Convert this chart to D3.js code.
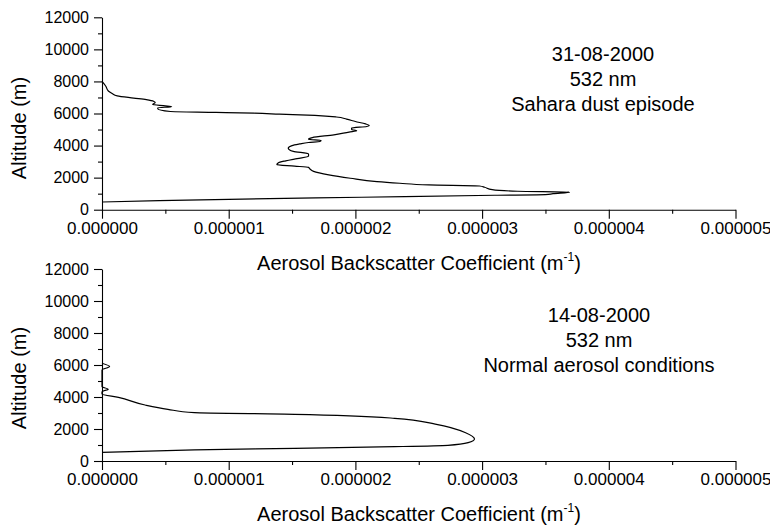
<!DOCTYPE html>
<html>
<head>
<meta charset="utf-8">
<script src="https://cdn.jsdelivr.net/npm/d3@7"></script>
<style>
body { margin: 0; background: #fff; }
text { font-family: "Liberation Sans", Arial, Helvetica, sans-serif; fill: #000; }
</style>
</head>
<body>
<svg id="svg" width="770" height="527"></svg>
<script>
// 31-08-2000, Sahara dust profile (altitude m, backscatter m-1)
var saharaAlt = [480, 560, 650, 775, 900, 940, 1000, 1090, 1150, 1250, 1400, 1480, 1545, 1650, 1750, 1960, 2170, 2390, 2550, 2640, 2720, 2810, 2920, 3050, 3190, 3330, 3480, 3640, 3840, 4000, 4100, 4190, 4250, 4310, 4400, 4500, 4670, 4840, 4920, 5000, 5090, 5190, 5250, 5350, 5500, 5650, 5780, 5880, 5960, 6020, 6070, 6125, 6300, 6360, 6420, 6480, 6560, 6680, 6750, 6860, 6960, 7100, 7250, 7400, 7700, 8000];
var saharaBsc = [0, 0.45e-6, 1.00e-6, 2.05e-6, 3.10e-6, 3.50e-6, 3.56e-6, 3.69e-6, 3.28e-6, 3.08e-6, 3.02e-6, 2.98e-6, 2.58e-6, 2.35e-6, 2.17e-6, 1.96e-6, 1.79e-6, 1.67e-6, 1.64e-6, 1.63e-6, 1.52e-6, 1.38e-6, 1.39e-6, 1.45e-6, 1.54e-6, 1.63e-6, 1.63e-6, 1.51e-6, 1.47e-6, 1.50e-6, 1.56e-6, 1.63e-6, 1.72e-6, 1.73e-6, 1.63e-6, 1.66e-6, 1.83e-6, 1.95e-6, 2.01e-6, 1.97e-6, 1.97e-6, 2.09e-6, 2.11e-6, 2.08e-6, 2.00e-6, 1.93e-6, 1.85e-6, 1.68e-6, 1.40e-6, 1.20e-6, 0.90e-6, 0.54e-6, 0.44e-6, 0.44e-6, 0.55e-6, 0.50e-6, 0.40e-6, 0.42e-6, 0.41e-6, 0.35e-6, 0.25e-6, 0.12e-6, 0.08e-6, 0.05e-6, 0.03e-6, 0];

// 14-08-2000, normal aerosol conditions
var normalAlt = [544, 690, 790, 895, 980, 1145, 1375, 1770, 2310, 2670, 2920, 3020, 3230, 3500, 3980, 4190, 4330, 4490, 4640, 5690, 5900, 6110];
var normalBsc = [0, 0.73e-6, 1.52e-6, 2.31e-6, 2.73e-6, 2.89e-6, 2.94e-6, 2.87e-6, 2.63e-6, 2.31e-6, 1.52e-6, 0.73e-6, 0.52e-6, 0.34e-6, 0.13e-6, 0, 0, 0.05e-6, 0, 0, 0.06e-6, 0];

var xTicks = [0, 0.000001, 0.000002, 0.000003, 0.000004, 0.000005];
var xMinor = [0.0000005, 0.0000015, 0.0000025, 0.0000035, 0.0000045];
var yTicks = [0, 2000, 4000, 6000, 8000, 10000, 12000];
var yMinor = [1000, 3000, 5000, 7000, 9000, 11000];

var notesTop = ["31-08-2000", "532 nm", "Sahara dust episode"];
var notesBottom = ["14-08-2000", "532 nm", "Normal aerosol conditions"];

var svg = d3.select("#svg");

var drawPanel = function(y0, y1, alt, bsc, notes, noteX, noteY, titleY, altY) {
    var x = d3.scaleLinear().domain([0, 0.000005]).range([102, 735.5]);
    var y = d3.scaleLinear().domain([0, 12000]).range([y0, y1]);
    var g = svg.append("g");

    // x axis
    g.append("g")
        .attr("transform", "translate(0," + y0 + ")")
        .call(d3.axisBottom(x).tickValues(xMinor).tickSize(4).tickSizeOuter(0).tickFormat(""))
        .call(function(a) { a.select(".domain").remove(); });
    g.append("g")
        .attr("transform", "translate(0," + y0 + ")")
        .call(d3.axisBottom(x).tickValues(xTicks).tickSize(9).tickSizeOuter(0).tickPadding(3)
            .tickFormat(d3.format(".6f")))
        .attr("font-size", 17)
        .attr("font-family", "Liberation Sans, Arial, sans-serif");

    // y axis
    g.append("g")
        .attr("transform", "translate(102,0)")
        .call(d3.axisLeft(y).tickValues(yMinor).tickSize(4).tickSizeOuter(0).tickFormat(""))
        .call(function(a) { a.select(".domain").remove(); });
    g.append("g")
        .attr("transform", "translate(102,0)")
        .call(d3.axisLeft(y).tickValues(yTicks).tickSize(8).tickSizeOuter(0).tickPadding(5)
            .tickFormat(d3.format("d")))
        .attr("font-size", 16)
        .attr("font-family", "Liberation Sans, Arial, sans-serif");

    g.selectAll(".domain, .tick line").attr("stroke", "#000").attr("stroke-width", 1.1);

    // profile
    var line = d3.line()
        .x(function(i) { return x(bsc[i]); })
        .y(function(i) { return y(alt[i]); })
        .curve(d3.curveMonotoneY);
    g.append("path")
        .attr("d", line(d3.range(alt.length)))
        .attr("fill", "none")
        .attr("stroke", "#000")
        .attr("stroke-width", 1.2);

    // notes
    g.selectAll(".note").data(notes).enter().append("text")
        .attr("class", "note")
        .attr("x", noteX)
        .attr("y", function(d, i) { return noteY + i * 25; })
        .attr("text-anchor", "middle")
        .attr("font-size", 20)
        .text(function(d) { return d; });

    // axis titles
    var t = g.append("text")
        .attr("x", 419)
        .attr("y", titleY)
        .attr("text-anchor", "middle")
        .attr("font-size", 20);
    t.append("tspan").text("Aerosol Backscatter Coefficient (m");
    t.append("tspan").attr("font-size", 12).attr("dy", -9).text("-1");
    t.append("tspan").attr("dy", 9).text(")");

    g.append("text")
        .attr("transform", "translate(26," + altY + ") rotate(-90)")
        .attr("text-anchor", "middle")
        .attr("font-size", 20)
        .text("Altitude (m)");
};

drawPanel(209.7, 17.3, saharaAlt, saharaBsc, notesTop, 603, 61, 270, 128);
drawPanel(461, 269, normalAlt, normalBsc, notesBottom, 599, 322, 521, 378);
</script>
</body>
</html>
